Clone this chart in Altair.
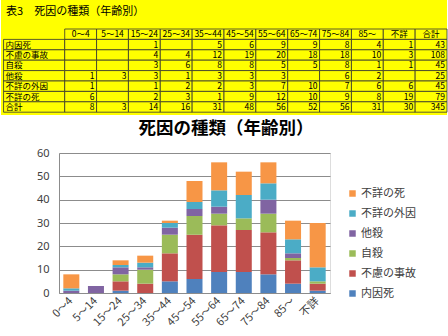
import altair as alt
import pandas as pd

FONT = "Noto Sans CJK JP"

ages = ["0～4", "5～14", "15～24", "25～34", "35～44", "45～54", "55～64",
        "65～74", "75～84", "85～", "不詳"]
causes = ["内因死", "不慮の事故", "自殺", "他殺", "不詳の外因", "不詳の死"]
colors = ["#4F81BD", "#C0504D", "#9BBB59", "#8064A2", "#4BACC6", "#F79646"]

v_naiin = [None, None, 1, None, 5, 6, 9, 9, 8, 4, 1]
v_jiko = [None, None, 4, 4, 12, 19, 20, 18, 18, 10, 3]
v_jisatsu = [None, None, 3, 6, 8, 8, 5, 5, 8, 1, 1]
v_tasatsu = [1, 3, 3, 1, 3, 3, 3, None, 6, 2, None]
v_fusho_gaiin = [1, None, 1, 2, 2, 3, 7, 10, 7, 6, 6]
v_fusho_shi = [6, None, 2, 3, 1, 9, 12, 10, 9, 8, 19]
cause_totals = [43, 108, 45, 25, 45, 79]
age_totals = [8, 3, 14, 16, 31, 48, 56, 52, 56, 31, 30]
grand_total = 345

series = [v_naiin, v_jiko, v_jisatsu, v_tasatsu, v_fusho_gaiin, v_fusho_shi]
table_title = "表3　死因の種類（年齢別）"
chart_title = "死因の種類（年齢別）"
total_label = "合計"

# ---------------- layout constants ----------------
PLOT_LEFT = 58          # left edge of bar plot area (px)
TW, TH = 446, 115       # yellow table block
TOPH = 146              # height of the upper block (table + chart title)
TOP_PX, ROW_PX = 29, 10.4
ncols = len(ages) + 1
UNITS = 2 + ncols       # label column counts as two units
U = TW / UNITS
TFS = 8.5               # table font size

# ---------------- table ----------------
cells = []
headers = ages + [total_label]
for j, h in enumerate(headers):
    cells.append(dict(x=2 + j, x2=3 + j, y=0, y2=1, kind="header", text=h))
row_labels = causes + [total_label]
row_values = [s + [t] for s, t in zip(series, cause_totals)] + [age_totals + [grand_total]]
for i, (lab, vals) in enumerate(zip(row_labels, row_values)):
    r = i + 1
    cells.append(dict(x=0.08, x2=2, y=r, y2=r + 1, kind="label", text=lab))
    for j, v in enumerate(vals):
        cells.append(dict(x=2 + j, x2=3 + j, y=r, y2=r + 1, kind="num",
                          text="" if v is None else str(v)))
cells = pd.DataFrame(cells)
cells["yc"] = cells["y"] + 0.5
cells["xc"] = cells["x"] + 0.5

ymin, ymax = -TOP_PX / ROW_PX, (TOPH - TOP_PX) / ROW_PX
xs = alt.Scale(domain=[PLOT_LEFT / U, UNITS], nice=False, zero=False)
ys = alt.Scale(domain=[ymin, ymax], nice=False, zero=False, reverse=True)

bg = alt.Chart(pd.DataFrame({"x": [0], "x2": [UNITS], "y": [ymin],
                             "y2": [ymin + TH / ROW_PX]})).mark_rect(
    fill="#FFFF00", stroke=None).encode(
    x=alt.X("x:Q", scale=xs, axis=None), x2="x2:Q",
    y=alt.Y("y:Q", scale=ys, axis=None), y2="y2:Q")
base = alt.Chart(cells)
grid = base.mark_rect(fill="#FFFF00", stroke="#333333", strokeWidth=0.8).encode(
    x=alt.X("x:Q", scale=xs, axis=None), x2="x2:Q",
    y=alt.Y("y:Q", scale=ys, axis=None), y2="y2:Q")
hdr_text = base.transform_filter(alt.datum.kind == "header").mark_text(
    font=FONT, fontSize=TFS, color="#000000", align="center", baseline="middle").encode(
    x=alt.X("xc:Q", scale=xs, axis=None), y=alt.Y("yc:Q", scale=ys, axis=None), text="text:N")
lab_text = base.transform_filter(alt.datum.kind == "label").mark_text(
    font=FONT, fontSize=TFS, color="#000000", align="left", baseline="middle", dx=2).encode(
    x=alt.X("x:Q", scale=xs, axis=None), y=alt.Y("yc:Q", scale=ys, axis=None), text="text:N")
num_text = base.transform_filter(alt.datum.kind == "num").mark_text(
    font=FONT, fontSize=TFS, color="#000000", align="right", baseline="middle", dx=-2).encode(
    x=alt.X("x2:Q", scale=xs, axis=None), y=alt.Y("yc:Q", scale=ys, axis=None), text="text:N")
ttl = alt.Chart(pd.DataFrame({"t": [table_title], "x": [0.16],
                              "y": [ymin + 12 / ROW_PX]})).mark_text(
    font=FONT, fontSize=11, color="#000000", align="left", baseline="middle").encode(
    x=alt.X("x:Q", scale=xs, axis=None), y=alt.Y("y:Q", scale=ys, axis=None), text="t:N")
ctitle = alt.Chart(pd.DataFrame({"t": [chart_title], "x": [225 / U],
                                 "y": [ymin + 129 / ROW_PX]})).mark_text(
    font=FONT, fontSize=17.5, fontWeight="bold", color="#000000", align="center",
    baseline="middle").encode(
    x=alt.X("x:Q", scale=xs, axis=None), y=alt.Y("y:Q", scale=ys, axis=None), text="t:N")

table = alt.layer(bg, grid, hdr_text, lab_text, num_text, ttl, ctitle).properties(
    width=TW - PLOT_LEFT, height=TOPH, view=alt.ViewBackground(fill=None, stroke=None))

# ---------------- bar chart ----------------
rows = []
for k, (c, vals) in enumerate(zip(causes, series)):
    for a, v in zip(ages, vals):
        rows.append(dict(age=a, cause=c, value=0 if v is None else v, order=k))
df = pd.DataFrame(rows)

GRID = "#8C8C8C"
bars = alt.Chart(df).mark_bar().encode(
    x=alt.X("age:N", sort=ages,
            scale=alt.Scale(paddingInner=0.35, paddingOuter=0.175),
            axis=alt.Axis(title=None, labelAngle=-45, labelAlign="right",
                          labelBaseline="middle", ticks=False, domain=True,
                          domainColor=GRID, labelPadding=6, labelFont=FONT,
                          labelFontSize=11, labelColor="#404040")),
    y=alt.Y("value:Q", stack="zero", scale=alt.Scale(domain=[0, 60], nice=False),
            axis=alt.Axis(title=None, values=[0, 10, 20, 30, 40, 50, 60],
                          ticks=False, domain=True, domainColor=GRID,
                          gridColor=GRID, gridWidth=1, labelPadding=10,
                          minExtent=PLOT_LEFT, labelFont="Noto Sans", labelFontSize=11,
                          labelColor="#404040")),
    color=alt.Color("cause:N",
                    scale=alt.Scale(domain=causes[::-1], range=colors[::-1]),
                    legend=alt.Legend(title=None, orient="none", legendX=288,
                                      legendY=188, symbolType="square",
                                      symbolSize=42, symbolStrokeWidth=0,
                                      labelFont=FONT, labelFontSize=11,
                                      labelColor="#404040", rowPadding=8,
                                      labelOffset=3, padding=0)),
    order=alt.Order("order:Q"),
).properties(width=271, height=140)

chart = alt.vconcat(table, bars, spacing=0).properties(padding=0).configure_view(
    stroke=None).configure(background="#FFFFFF")

chart.save("out.html", embed_options={"renderer": "svg", "actions": False})
